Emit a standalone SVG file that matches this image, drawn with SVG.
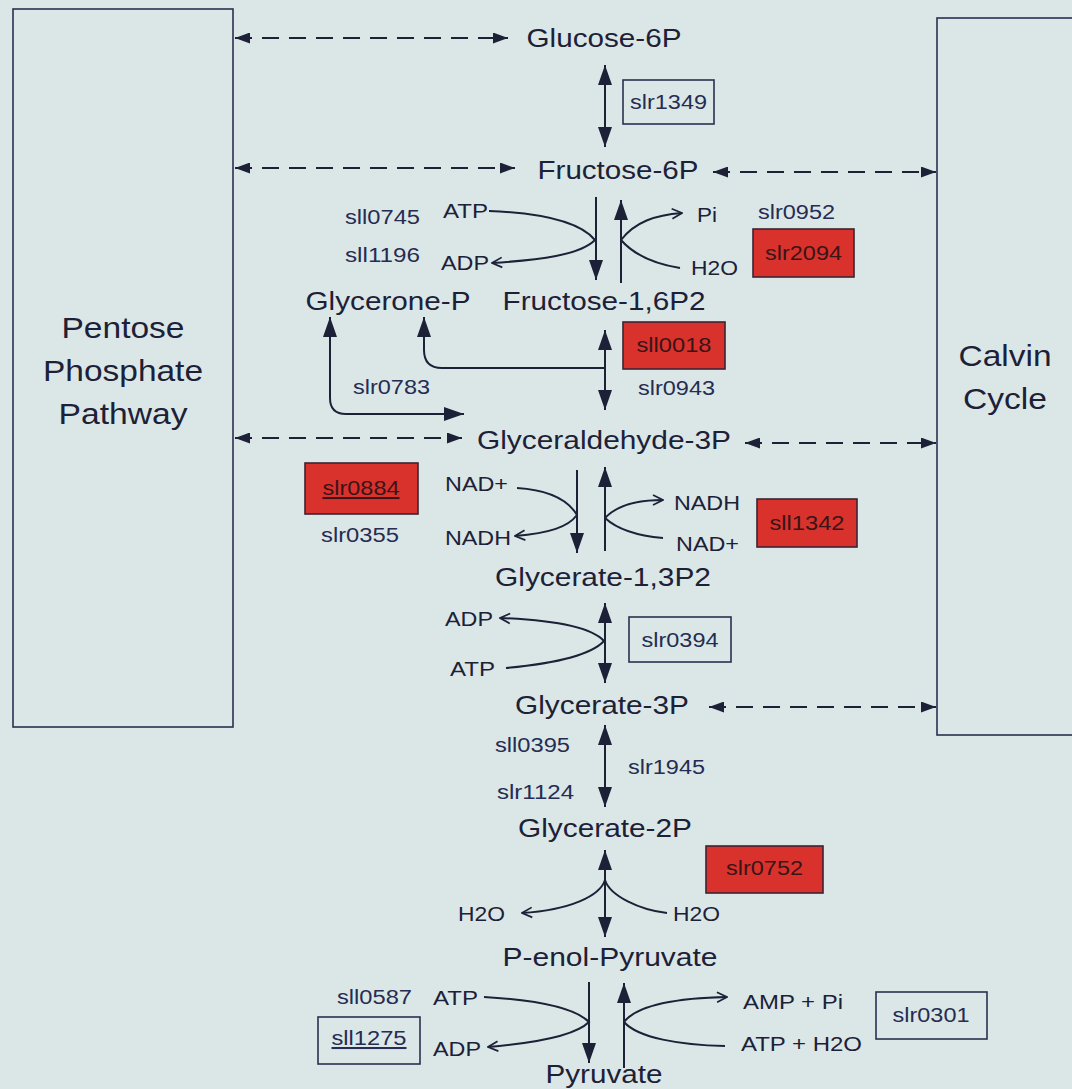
<svg xmlns="http://www.w3.org/2000/svg" width="1072" height="1089" viewBox="0 0 1072 1089">
<style>
text{font-family:"Liberation Sans",Arial,sans-serif;fill:#1d2138}
.met{font-size:26.5px;text-anchor:middle}
.path{font-size:30px;text-anchor:middle}
.gene{font-size:20.5px;fill:#262c52}
.gm{text-anchor:middle}
.rg{fill:#3a1416}
.cof{font-size:21px}
.box{fill:none;stroke:#2a3050;stroke-width:1.6}
.rbox{fill:#d9322d;stroke:#3c2232;stroke-width:1.6}
.ln{fill:none;stroke:#1d2138;stroke-width:2}
.dash{fill:none;stroke:#1d2138;stroke-width:2;stroke-dasharray:17 10}
.ul{text-decoration:underline}
</style>
<defs>
<marker id="tri" markerUnits="userSpaceOnUse" markerWidth="20" markerHeight="14" viewBox="0 0 20 14" refX="20" refY="7" orient="auto-start-reverse"><path d="M0,0 L20,7 L0,14 z" fill="#1d2138"/></marker>
<marker id="stri" markerUnits="userSpaceOnUse" markerWidth="15" markerHeight="11" viewBox="0 0 15 11" refX="15" refY="5.5" orient="auto-start-reverse"><path d="M0,0 L15,5.5 L0,11 z" fill="#1d2138"/></marker>
<marker id="open" markerUnits="userSpaceOnUse" markerWidth="13" markerHeight="13" viewBox="0 0 13 13" refX="12" refY="6.5" orient="auto"><path d="M2,1.5 L12,6.5 L2,11.5" fill="none" stroke="#1d2138" stroke-width="1.7"/></marker>
</defs>
<rect width="1072" height="1089" fill="#dbe7e7"/>

<g id="ppp"><rect class="box" x="13" y="9" width="220" height="718"/>
<text class="path" x="123" y="338" textLength="123" lengthAdjust="spacingAndGlyphs">Pentose</text>
<text class="path" x="123" y="381" textLength="160" lengthAdjust="spacingAndGlyphs">Phosphate</text>
<text class="path" x="123" y="424" textLength="129" lengthAdjust="spacingAndGlyphs">Pathway</text></g>

<g id="calvin"><rect class="box" x="937" y="18" width="145" height="717"/>
<text class="path" x="1005" y="366" textLength="93" lengthAdjust="spacingAndGlyphs">Calvin</text>
<text class="path" x="1005" y="409" textLength="84" lengthAdjust="spacingAndGlyphs">Cycle</text></g>

<g id="glucose6p"><text class="met" x="604" y="47" textLength="155" lengthAdjust="spacingAndGlyphs">Glucose-6P</text></g>
<g id="fructose6p"><text class="met" x="618" y="179" textLength="161" lengthAdjust="spacingAndGlyphs">Fructose-6P</text></g>
<g id="fructose16p2"><text class="met" x="604" y="310" textLength="203" lengthAdjust="spacingAndGlyphs">Fructose-1,6P2</text></g>
<g id="glyceroneP"><text class="met" x="388" y="310" textLength="165" lengthAdjust="spacingAndGlyphs">Glycerone-P</text></g>
<g id="glyceraldehyde3p"><text class="met" x="604" y="449" textLength="254" lengthAdjust="spacingAndGlyphs">Glyceraldehyde-3P</text></g>
<g id="glycerate13p2"><text class="met" x="603" y="586" textLength="216" lengthAdjust="spacingAndGlyphs">Glycerate-1,3P2</text></g>
<g id="glycerate3p"><text class="met" x="602" y="714" textLength="174" lengthAdjust="spacingAndGlyphs">Glycerate-3P</text></g>
<g id="glycerate2p"><text class="met" x="605" y="837" textLength="174" lengthAdjust="spacingAndGlyphs">Glycerate-2P</text></g>
<g id="pep"><text class="met" x="610" y="966" textLength="215" lengthAdjust="spacingAndGlyphs">P-enol-Pyruvate</text></g>
<g id="pyruvate"><text class="met" x="604" y="1083" textLength="117" lengthAdjust="spacingAndGlyphs">Pyruvate</text></g>

<g id="gene-boxes">
<g id="slr1349"><rect class="box" x="623" y="80" width="91" height="44"/><text class="gene gm" x="668.5" y="109" textLength="77" lengthAdjust="spacingAndGlyphs">slr1349</text></g>
<g id="slr2094"><rect class="rbox" x="753" y="229" width="101" height="48"/><text class="gene gm rg" x="803.5" y="260" textLength="77" lengthAdjust="spacingAndGlyphs">slr2094</text></g>
<g id="sll0018"><rect class="rbox" x="623" y="322" width="102" height="47"/><text class="gene gm rg" x="674" y="352" textLength="75" lengthAdjust="spacingAndGlyphs">sll0018</text></g>
<g id="slr0884"><rect class="rbox" x="305" y="463" width="113" height="51"/><text class="gene gm rg ul" x="361" y="495" textLength="77" lengthAdjust="spacingAndGlyphs">slr0884</text></g>
<g id="sll1342"><rect class="rbox" x="757" y="499" width="100" height="48"/><text class="gene gm rg" x="807" y="530" textLength="75" lengthAdjust="spacingAndGlyphs">sll1342</text></g>
<g id="slr0394"><rect class="box" x="629" y="617" width="102" height="45"/><text class="gene gm" x="680" y="647" textLength="77" lengthAdjust="spacingAndGlyphs">slr0394</text></g>
<g id="slr0752"><rect class="rbox" x="706" y="846" width="117" height="47"/><text class="gene gm rg" x="764.5" y="875" textLength="77" lengthAdjust="spacingAndGlyphs">slr0752</text></g>
<g id="slr0301"><rect class="box" x="876" y="992" width="111" height="47"/><text class="gene gm" x="931" y="1022" textLength="77" lengthAdjust="spacingAndGlyphs">slr0301</text></g>
<g id="sll1275"><rect class="box" x="318" y="1017" width="102" height="47"/><text class="gene gm ul" x="369" y="1045" textLength="75" lengthAdjust="spacingAndGlyphs">sll1275</text></g>
</g>

<g id="gene-labels">
<text class="gene" x="345" y="224" textLength="75" lengthAdjust="spacingAndGlyphs">sll0745</text>
<text class="gene" x="345" y="262" textLength="75" lengthAdjust="spacingAndGlyphs">sll1196</text>
<text class="gene" x="758" y="219" textLength="77" lengthAdjust="spacingAndGlyphs">slr0952</text>
<text class="gene" x="353" y="394" textLength="77" lengthAdjust="spacingAndGlyphs">slr0783</text>
<text class="gene" x="638" y="395" textLength="77" lengthAdjust="spacingAndGlyphs">slr0943</text>
<text class="gene" x="321" y="542" textLength="78" lengthAdjust="spacingAndGlyphs">slr0355</text>
<text class="gene" x="495" y="752" textLength="75" lengthAdjust="spacingAndGlyphs">sll0395</text>
<text class="gene" x="628" y="774" textLength="77" lengthAdjust="spacingAndGlyphs">slr1945</text>
<text class="gene" x="497" y="799" textLength="77" lengthAdjust="spacingAndGlyphs">slr1124</text>
<text class="gene" x="337" y="1004" textLength="75" lengthAdjust="spacingAndGlyphs">sll0587</text>
</g>

<g id="cofactors">
<text class="cof" x="443" y="218" textLength="45" lengthAdjust="spacingAndGlyphs">ATP</text>
<text class="cof" x="441" y="270" textLength="48" lengthAdjust="spacingAndGlyphs">ADP</text>
<text class="cof" x="697" y="222" textLength="20" lengthAdjust="spacingAndGlyphs">Pi</text>
<text class="cof" x="691" y="275" textLength="47" lengthAdjust="spacingAndGlyphs">H2O</text>
<text class="cof" x="445" y="491" textLength="63" lengthAdjust="spacingAndGlyphs">NAD+</text>
<text class="cof" x="445" y="545" textLength="66" lengthAdjust="spacingAndGlyphs">NADH</text>
<text class="cof" x="674" y="510" textLength="66" lengthAdjust="spacingAndGlyphs">NADH</text>
<text class="cof" x="676" y="551" textLength="63" lengthAdjust="spacingAndGlyphs">NAD+</text>
<text class="cof" x="445" y="626" textLength="48" lengthAdjust="spacingAndGlyphs">ADP</text>
<text class="cof" x="450" y="676" textLength="45" lengthAdjust="spacingAndGlyphs">ATP</text>
<text class="cof" x="458" y="921" textLength="47" lengthAdjust="spacingAndGlyphs">H2O</text>
<text class="cof" x="673" y="921" textLength="47" lengthAdjust="spacingAndGlyphs">H2O</text>
<text class="cof" x="433" y="1005" textLength="45" lengthAdjust="spacingAndGlyphs">ATP</text>
<text class="cof" x="433" y="1056" textLength="48" lengthAdjust="spacingAndGlyphs">ADP</text>
<text class="cof" x="743" y="1009" textLength="100" lengthAdjust="spacingAndGlyphs">AMP + Pi</text>
<text class="cof" x="741" y="1051" textLength="121" lengthAdjust="spacingAndGlyphs">ATP + H2O</text>
</g>

<g id="connectors">
<line class="dash" x1="235" y1="38" x2="508" y2="38" marker-start="url(#stri)" marker-end="url(#stri)"/>
<line class="dash" x1="235" y1="168" x2="515" y2="168" marker-start="url(#stri)" marker-end="url(#stri)"/>
<line class="dash" x1="713" y1="172" x2="936" y2="172" marker-start="url(#stri)" marker-end="url(#stri)"/>
<line class="dash" x1="235" y1="438" x2="462" y2="438" marker-start="url(#stri)" marker-end="url(#stri)"/>
<line class="dash" x1="745" y1="443" x2="936" y2="443" marker-start="url(#stri)" marker-end="url(#stri)"/>
<line class="dash" x1="709" y1="707" x2="936" y2="707" marker-start="url(#stri)" marker-end="url(#stri)"/>

<line class="ln" x1="605" y1="65" x2="605" y2="147" marker-start="url(#tri)" marker-end="url(#tri)"/>
<line class="ln" x1="596" y1="197" x2="596" y2="280" marker-end="url(#tri)"/>
<line class="ln" x1="621" y1="283" x2="621" y2="200" marker-end="url(#tri)"/>
<path class="ln" d="M489,211 C540,213 580,222 595,240 C580,255 540,260 492,263" marker-end="url(#open)"/>
<path class="ln" d="M621,240 C635,222 655,215 682,213" marker-end="url(#open)"/>
<path class="ln" d="M621,240 C635,256 655,264 680,268"/>

<line class="ln" x1="605" y1="330" x2="605" y2="410" marker-start="url(#tri)" marker-end="url(#tri)"/>
<path class="ln" d="M605,368 H442 Q424,368 424,350 V317" marker-end="url(#tri)"/>
<path class="ln" d="M330,317 V398 Q330,414 346,414 H464" marker-start="url(#tri)" marker-end="url(#tri)"/>

<line class="ln" x1="577" y1="470" x2="577" y2="553" marker-end="url(#tri)"/>
<line class="ln" x1="605" y1="551" x2="605" y2="467" marker-end="url(#tri)"/>
<path class="ln" d="M517,488 C550,490 568,500 577,515 C568,527 550,533 515,536" marker-end="url(#open)"/>
<path class="ln" d="M605,518 C618,504 640,500 663,500" marker-end="url(#open)"/>
<path class="ln" d="M605,518 C618,530 640,536 663,538"/>

<line class="ln" x1="605" y1="603" x2="605" y2="683" marker-start="url(#tri)" marker-end="url(#tri)"/>
<path class="ln" d="M604,641 C590,626 550,620 500,618" marker-end="url(#open)"/>
<path class="ln" d="M506,668 C550,664 590,656 604,641"/>

<line class="ln" x1="605" y1="725" x2="605" y2="807" marker-start="url(#tri)" marker-end="url(#tri)"/>

<line class="ln" x1="605" y1="850" x2="605" y2="937" marker-start="url(#tri)" marker-end="url(#tri)"/>
<path class="ln" d="M605,880 C600,896 570,910 522,913" marker-end="url(#open)"/>
<path class="ln" d="M605,880 C610,896 640,910 667,913"/>

<line class="ln" x1="589" y1="982" x2="589" y2="1063" marker-end="url(#tri)"/>
<line class="ln" x1="624" y1="1068" x2="624" y2="983" marker-end="url(#tri)"/>
<path class="ln" d="M484,997 C535,1000 575,1008 589,1022 C575,1036 535,1043 488,1047" marker-end="url(#open)"/>
<path class="ln" d="M624,1022 C638,1004 680,998 727,997" marker-end="url(#open)"/>
<path class="ln" d="M624,1022 C638,1038 680,1045 725,1046"/>
</g>
</svg>
